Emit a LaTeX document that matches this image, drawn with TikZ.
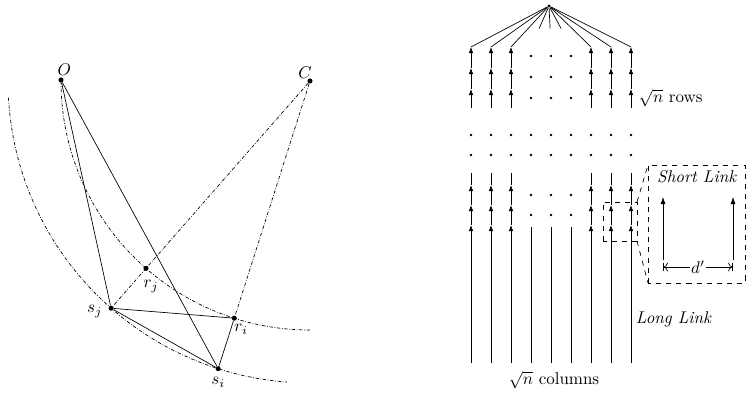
\documentclass[tikz,border=0pt]{standalone}
\usetikzlibrary{arrows.meta,calc}

\begin{document}
\begin{tikzpicture}[>=Latex,x=0.59pt,y=0.59pt,
  pt/.style={circle,fill,inner sep=0pt,minimum size=3pt},
  guide/.style={dash pattern=on 2pt off 1pt on 0.4pt off 1pt},
  up/.style={-{Latex[length=3.6pt,width=2.7pt]}},
  bigup/.style={-{Latex[length=4.2pt,width=3pt]}}]
\useasboundingbox (0,0) rectangle (747,394);
% left: two circles around C
\node[pt,label={[label distance=-3.5pt,xshift=-3pt]above:$C$}] (C) at (310,313) {};
\node[pt,label={[label distance=-2.3pt,xshift=2pt]above:$O$}] (O) at (61,314) {};
\node[pt,label={[yshift=-2pt]left:$s_j$}] (sj) at ($(C)+(228.8:302)$) {};
\node[pt,label={below:$s_i$}] (si) at ($(C)+(252.3:302)$) {};
\node[pt,label={[label distance=2pt,xshift=3pt]below:$r_j$}] (rj) at ($(C)!0.8245!(sj)$) {};
\node[pt,label={[label distance=-1.5pt,xshift=4pt]below:$r_i$}] (ri) at ($(C)!0.8245!(si)$) {};
\draw[guide] (C) ++(180:249) arc[start angle=180,end angle=270,radius=249];
\draw[guide] (C) ++(183.2:302) arc[start angle=183.2,end angle=265.6,radius=302];
\draw[guide] (C) -- (sj);
\draw[guide] (C) -- (ri);
\draw (O) -- (sj);
\draw (O) -- (si);
\draw (sj) -- (ri);
\draw (sj) -- (si);
\draw (ri) -- (si);

% right: grid of links
\node[circle,fill,inner sep=0pt,minimum size=2pt] (top) at (549,388) {};
\foreach \i in {0,1,2,6,7,8}{
  \coordinate (t\i) at (471+20*\i,347);
  \coordinate (u\i) at (471+20*\i,326);
  \coordinate (v\i) at (471+20*\i,305);
  \coordinate (w\i) at (471+20*\i,286);
  \draw (top) -- (t\i);
  \draw[up] (w\i) -- (v\i);
  \draw[up] (v\i) -- (u\i);
  \draw[up] (u\i) -- (t\i);
  \coordinate (b\i) at (471+20*\i,31);
  \coordinate (l\i) at (471+20*\i,169);
  \coordinate (m\i) at (471+20*\i,189);
  \coordinate (n\i) at (471+20*\i,209);
  \coordinate (e\i) at (471+20*\i,221);
  \draw[up] (b\i) -- (l\i);
  \draw[up] (l\i) -- (m\i);
  \draw[up] (m\i) -- (n\i);
  \draw (n\i) -- (e\i);
}
\foreach \i in {3,4,5}{
  \draw (top) -- ($(top)!0.55!(471+20*\i,347)$);
  \foreach \y in {338,317,296,199,179}
    \fill (471+20*\i,\y) circle (0.75pt);
  \draw (471+20*\i,31) -- (471+20*\i,167);
}
\foreach \i in {0,...,8}
  \foreach \y in {259,239}
    \fill (471+20*\i,\y) circle (0.75pt);
\node[right] (rows) at (633,296) {$\sqrt{n}$ rows};
\node (cols) at (554,14) {$\sqrt{n}$ columns};
\node[right] (long) at (630,75) {\textit{Long Link}};

% zoom on a short link
\coordinate (z1) at (603,153);
\coordinate (z2) at (637,192);
\coordinate (Z1) at (648,111);
\coordinate (Z2) at (745,229);
\draw[dashed] (z1) rectangle (z2);
\draw[dashed] (Z1) rectangle (Z2);
\draw[dashed] (z2) -- (Z1 |- Z2);
\draw[dashed] (z2 |- z1) -- (Z1);
\node (short) at (697,217) {\textit{Short Link}};
\coordinate (p1) at (663,134);
\coordinate (p2) at (663,197);
\coordinate (q1) at (733,134);
\coordinate (q2) at (733,197);
\draw[bigup] (p1) -- (p2);
\draw[bigup] (q1) -- (q2);
\draw[>=To,|<->|] (663,127) -- node[fill=white,inner sep=1pt] (d) {$d'$} (733,127);
\end{tikzpicture}
\end{document}
